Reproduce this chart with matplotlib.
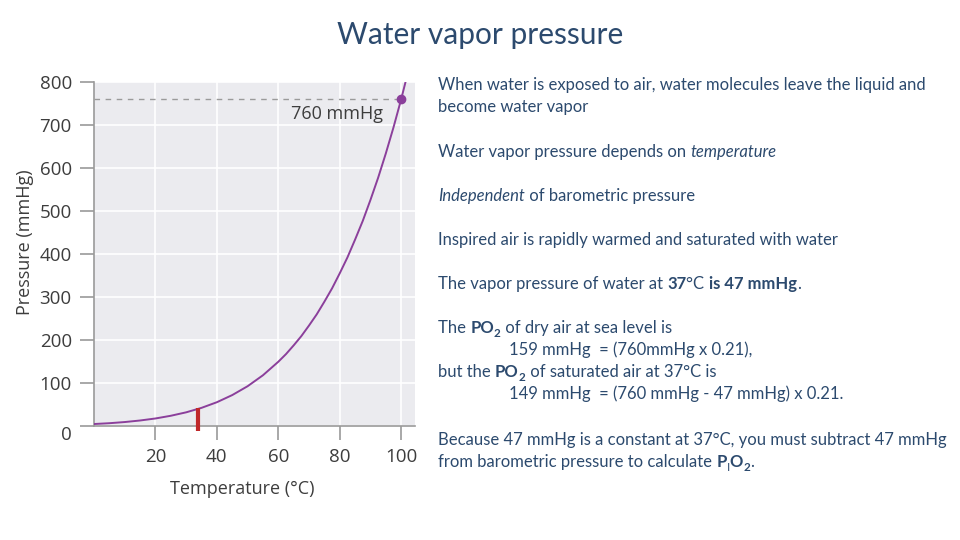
import matplotlib
matplotlib.use("Agg")
import matplotlib.pyplot as plt
import matplotlib.transforms as mtransforms

# 水的饱和蒸气压
temp_c = [0, 5, 10, 15, 20, 25, 30, 35, 40, 45, 50, 55, 60, 62.5, 65, 67.5,
          70, 72.5, 75, 77.5, 80, 82.5, 85, 87.5, 90, 92.5, 95, 97.5, 100,
          102.5, 105]
pressure_mmhg = [4.6, 6.5, 9.2, 12.8, 17.5, 23.8, 31.8, 42.2, 55.3, 71.9,
                 92.5, 118.0, 149.4, 167.2, 187.5, 209.1, 233.7, 259.6,
                 289.1, 320.1, 355.1, 392.0, 433.6, 477.1, 525.8, 577.4,
                 633.9, 694.5, 760.0, 830.7, 906.1]

x_ticks = [20, 40, 60, 80, 100]
y_ticks = [0, 100, 200, 300, 400, 500, 600, 700, 800]
boil_point = (100, 760)
marker_temp = 34
marker_range = (-12, 42)
ref_label = "760 mmHg"

title = "Water vapor pressure"
x_label = "Temperature (°C)"
y_label = "Pressure (mmHg)"

NAVY = "#2c4a6e"
AXGRAY = "#3d3d3d"
PURPLE = "#8b3f9b"

fig = plt.figure(figsize=(9.6, 5.4), dpi=100)
fig.patch.set_facecolor("white")

# ---- 左侧曲线图 ----
ax = fig.add_axes([94 / 960, (540 - 426) / 540, 321 / 960, 344 / 540])
ax.set_facecolor("#ebebef")
ax.plot(temp_c, pressure_mmhg, color=PURPLE, lw=1.4, zorder=3)
ax.plot([0, boil_point[0]], [boil_point[1]] * 2, ls=(0, (4, 4)),
        color="#9a9a9a", lw=1, zorder=2)
ax.plot(*boil_point, "o", color=PURPLE, ms=6, zorder=4)
ax.plot([marker_temp, marker_temp], marker_range, color="#c0282a", lw=3,
        solid_capstyle="butt", clip_on=False, zorder=5)
ax.text(94, 725, ref_label, ha="right", va="center", fontsize=13,
        color=AXGRAY, family="Open Sans")

ax.set_xlim(0, 104.5)
ax.set_ylim(0, 800)
ax.set_xticks(x_ticks)
ax.set_yticks(y_ticks)
ax.grid(True, color="white", lw=1.2)
ax.set_axisbelow(True)
for s in ["top", "right"]:
    ax.spines[s].set_visible(False)
for s in ["left", "bottom"]:
    ax.spines[s].set_color("#9a9a9a")
    ax.spines[s].set_linewidth(1.2)
ax.tick_params(axis="both", length=10, width=1.2, color="#9a9a9a",
               labelsize=13.5, labelcolor=AXGRAY, pad=6)
for lab in ax.get_xticklabels() + ax.get_yticklabels():
    lab.set_family("Open Sans")
# "0" 标签略微下移
lab0 = ax.get_yticklabels()[0]
lab0.set_transform(lab0.get_transform() +
                   mtransforms.ScaledTranslation(0, -7 / 100, fig.dpi_scale_trans))
ax.set_xlabel(x_label, fontsize=13, color=AXGRAY, family="Open Sans", labelpad=10)
ax.set_ylabel(y_label, fontsize=13, color=AXGRAY, family="Open Sans", labelpad=4)
ax.xaxis.label.set_x(0.461)
ax.yaxis.label.set_y(0.535)

# ---- 标题与右侧文字（像素坐标）----
tx = fig.add_axes([0, 0, 1, 1], facecolor="none")
tx.set_xlim(0, 960)
tx.set_ylim(540, 0)
tx.axis("off")

tx.text(480, 35, title, ha="center", va="center", fontsize=21.5,
        color=NAVY, family="Lato")

renderer = fig.canvas.get_renderer()
FS = 12


def draw_runs(x, y, parts):
    """依次绘制不同样式的文字片段"""
    for part in parts:
        if isinstance(part, str):
            part = (part, {})
        s, st = part
        size = st.get("size", FS)
        dy = st.get("dy", 0)
        t = tx.text(x, y + dy, s, ha="left", va="baseline", fontsize=size,
                    color=NAVY, family="Lato",
                    fontweight=st.get("weight", "normal"),
                    fontstyle=st.get("style", "normal"))
        x += t.get_window_extent(renderer).width


B = {"weight": "bold"}
I = {"style": "italic"}
SUB = {"weight": "bold", "size": FS * 0.7, "dy": 4}

L0 = 438
L1 = 509
lines = [
    (L0, 90, ["When water is exposed to air, water molecules leave the liquid and"]),
    (L0, 112, ["become water vapor"]),
    (L0, 157, ["Water vapor pressure depends on ", ("temperature", I)]),
    (L0, 201, [("Independent", I), " of barometric pressure"]),
    (L0, 245, ["Inspired air is rapidly warmed and saturated with water"]),
    (L0, 289, ["The vapor pressure of water at ", ("37", B), "°C ",
               ("is 47 mmHg", B), "."]),
    (L0, 333, ["The ", ("PO", B), ("2", SUB), " of dry air at sea level is"]),
    (L1, 355, ["159 mmHg  = (760mmHg x 0.21),"]),
    (L0, 377, ["but the ", ("PO", B), ("2", SUB), " of saturated air at 37°C is"]),
    (L1, 399, ["149 mmHg  = (760 mmHg - 47 mmHg) x 0.21."]),
    (L0, 445, ["Because 47 mmHg is a constant at 37°C, you must subtract 47 mmHg"]),
    (L0, 467, ["from barometric pressure to calculate ", ("P", B),
               ("I", {"size": FS * 0.7, "dy": 4}), ("O", B), ("2", SUB), "."]),
]
for x, y, parts in lines:
    draw_runs(x, y, parts)

fig.savefig("out.png", dpi=100)
